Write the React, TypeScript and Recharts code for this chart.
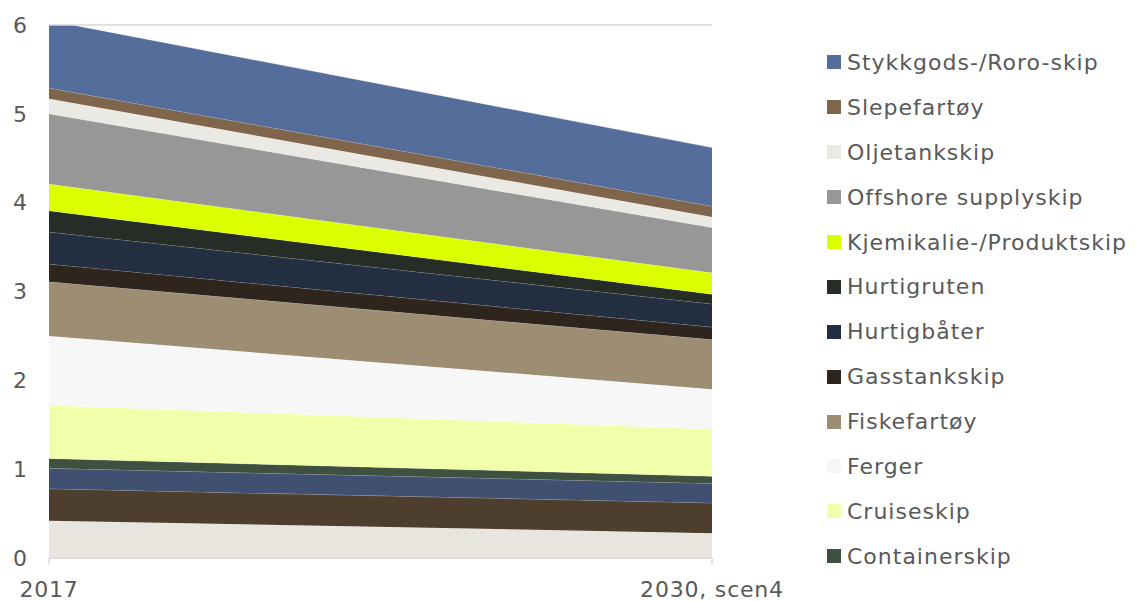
import React from 'react';
import { AreaChart, Area, XAxis, YAxis, ReferenceLine, Legend } from 'recharts';

// categories on the x axis
const years = ['2017', '2030, scen4'];

// series listed bottom of stack first (last three are not in the legend)
const seriesNames = [
 'Andre servicefartøy',
 'Brønnbåt',
 'Bulkskip',
 'Containerskip',
 'Cruiseskip',
 'Ferger',
 'Fiskefartøy',
 'Gasstankskip',
 'Hurtigbåter',
 'Hurtigruten',
 'Kjemikalie-/Produktskip',
 'Offshore supplyskip',
 'Oljetankskip',
 'Slepefartøy',
 'Stykkgods-/Roro-skip',
];

const values2017 = [0.42, 0.36, 0.23, 0.11, 0.6, 0.78, 0.61, 0.2, 0.36, 0.24, 0.3, 0.79, 0.17, 0.12, 0.76];
const values2030 = [0.28, 0.34, 0.22, 0.08, 0.53, 0.45, 0.56, 0.14, 0.26, 0.11, 0.24, 0.51, 0.12, 0.12, 0.66];

const colors = [
 '#e8e5df', '#4e3e2d', '#3f5070', '#3e503f', '#f2ffaa', '#f7f7f7', '#9c8d73', '#30251d',
 '#232e41', '#262d26', '#dcff00', '#979797', '#ebe9e3', '#7f654c', '#556d9b',
];

const legendNames = seriesNames.slice(3).reverse();

const yTicks = [0, 1, 2, 3, 4, 5, 6];

const data = years.map((year, i) => {
 const row: Record<string, string | number> = { year };
 seriesNames.forEach((name, idx) => {
 row[name] = i === 0 ? values2017[idx] : values2030[idx];
 });
 return row;
});

const FONT = '"DejaVu Sans", Verdana, sans-serif';
const TEXT = '#595959';

const renderLegend = () => (
 <div style={{ fontFamily: FONT, width: 309 }}>
 {legendNames.map((name) => {
 const color = colors[seriesNames.indexOf(name)];
 return (
 <div key={name} style={{ display: 'flex', alignItems: 'center', height: 44.9 }}>
 <div style={{ width: 14, height: 14, background: color, marginRight: 6, flexShrink: 0 }} />
 <span style={{ fontSize: 22, letterSpacing: 1, color: TEXT, whiteSpace: 'nowrap' }}>{name}</span>
 </div>
 );
 })}
 </div>
);

export default function App() {
 return (
 <div style={{ position: 'absolute', left: 0, top: 0, width: 1136, height: 601, background: '#fff' }}>
 <AreaChart
 width={1136}
 height={601}
 data={data}
 margin={{ top: 25, right: 115, bottom: 0, left: 0 }}
 >
 <XAxis
 dataKey="year"
 height={43}
 axisLine={{ stroke: '#d9d9d9', strokeWidth: 1.5 }}
 tickLine={{ stroke: '#d9d9d9', strokeWidth: 1.5 }}
 tickSize={6}
 tickMargin={17}
 tick={{ fontSize: 22, fill: TEXT, fontFamily: FONT, letterSpacing: 0.8 }}
 interval={0}
 />
 <YAxis
 width={49}
 domain={[0, 6]}
 ticks={yTicks}
 allowDataOverflow
 axisLine={false}
 tickLine={false}
 tickSize={0}
 tickMargin={22}
 tick={{ fontSize: 22, fill: TEXT, fontFamily: FONT }}
 />
 <ReferenceLine y={6} stroke="#d9d9d9" strokeWidth={1.5} />
 {seriesNames.map((name, i) => (
 <Area
 key={name}
 type="linear"
 dataKey={name}
 stackId="1"
 fill={colors[i]}
 fillOpacity={1}
 stroke="#ffffff"
 strokeOpacity={0.3}
 strokeWidth={1}
 isAnimationActive={false}
 />
 ))}
 <Legend
 layout="vertical"
 verticalAlign="top"
 align="right"
 content={renderLegend}
 wrapperStyle={{ left: 827, top: 40, width: 309 }}
 />
 </AreaChart>
 </div>
 );
}
